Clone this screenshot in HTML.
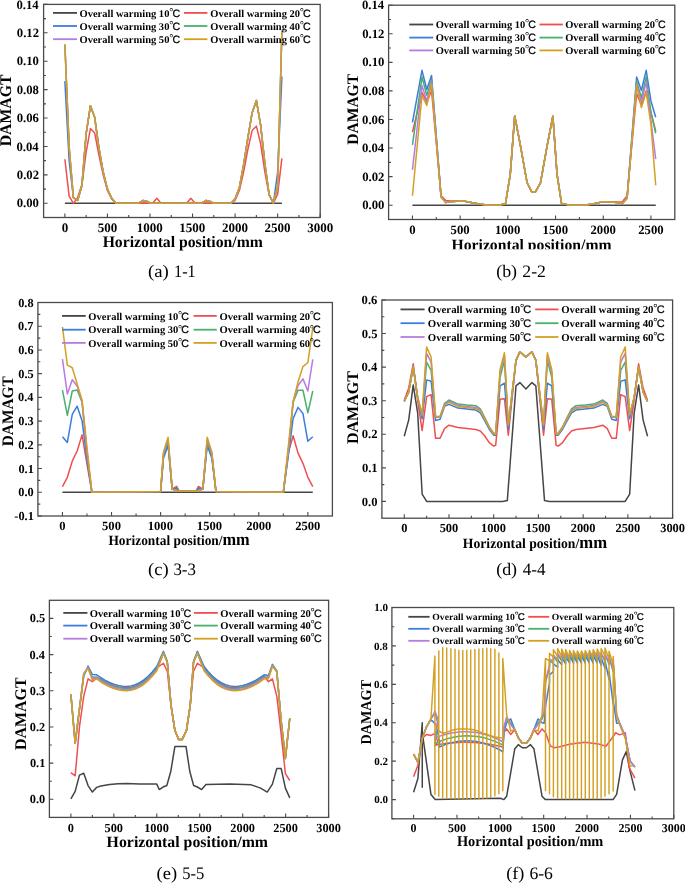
<!DOCTYPE html>
<html><head><meta charset="utf-8"><style>
html,body{margin:0;padding:0;background:#fff;}
svg{display:block;will-change:transform;}
text{fill:#000;text-rendering:geometricPrecision;}
</style></head><body>
<svg width="685" height="883" viewBox="0 0 685 883">
<rect width="685" height="883" fill="#fff"/>
<path d="M64.88,217.50V213.50 M107.43,217.50V213.50 M149.98,217.50V213.50 M192.54,217.50V213.50 M235.09,217.50V213.50 M277.65,217.50V213.50 M320.20,217.50V213.50 M86.15,217.50V215.10 M128.71,217.50V215.10 M171.26,217.50V215.10 M213.82,217.50V215.10 M256.37,217.50V215.10 M298.92,217.50V215.10 M43.60,203.29H47.60 M43.60,174.88H47.60 M43.60,146.47H47.60 M43.60,118.05H47.60 M43.60,89.64H47.60 M43.60,61.23H47.60 M43.60,32.81H47.60 M43.60,4.40H47.60 M43.60,189.09H46.00 M43.60,160.67H46.00 M43.60,132.26H46.00 M43.60,103.85H46.00 M43.60,75.43H46.00 M43.60,47.02H46.00 M43.60,18.61H46.00" stroke="#4a4a4a" stroke-width="1.1" fill="none"/>
<rect x="43.60" y="4.40" width="276.60" height="213.10" fill="none" stroke="#4a4a4a" stroke-width="1.3"/>
<polyline points="64.88,203.29 281.90,203.29" fill="none" stroke="#454545" stroke-width="1.5" stroke-linejoin="round"/>
<polyline points="64.88,159.25 69.13,196.19 73.39,203.29 77.64,197.61 81.90,184.82 86.15,152.15 90.41,128.57 94.66,132.97 98.92,154.99 103.18,174.88 107.43,190.51 111.69,199.03 115.94,203.29 152.54,203.29 156.79,198.32 161.05,203.29 186.58,203.29 190.84,198.32 195.09,203.29 230.84,203.29 235.09,200.45 239.35,190.51 243.60,172.04 247.86,149.31 252.11,130.56 256.37,126.15 260.62,143.63 264.88,172.04 269.14,194.77 273.39,203.29 277.65,194.20 281.90,158.40" fill="none" stroke="#F04E50" stroke-width="1.5" stroke-linejoin="round"/>
<polyline points="64.88,81.12 69.13,160.67 73.39,197.61 77.64,200.45 81.90,185.53 86.15,133.68 90.41,105.84 94.66,117.34 98.92,147.89 103.18,172.04 107.43,189.09 111.69,198.32 115.94,203.29 138.07,203.29 143.18,200.45 147.43,201.59 150.84,203.29 201.05,203.29 206.16,200.45 210.41,201.59 213.82,203.29 230.84,203.29 235.09,199.03 239.35,187.67 243.60,164.94 247.86,137.94 252.11,112.94 256.37,100.44 260.62,125.16 264.88,163.51 269.14,194.77 273.39,203.29 277.65,172.04 281.90,76.43" fill="none" stroke="#3A7DDE" stroke-width="1.5" stroke-linejoin="round"/>
<polyline points="64.88,44.46 69.13,146.47 73.39,197.61 77.64,200.45 81.90,185.53 86.15,133.68 90.41,105.84 94.66,117.34 98.92,147.89 103.18,172.04 107.43,189.09 111.69,198.32 115.94,203.29 138.07,203.29 143.18,200.45 147.43,201.59 150.84,203.29 201.05,203.29 206.16,200.45 210.41,201.59 213.82,203.29 230.84,203.29 235.09,199.03 239.35,187.67 243.60,164.94 247.86,137.94 252.11,112.94 256.37,100.44 260.62,125.16 264.88,163.51 269.14,194.77 273.39,203.29 277.65,186.25 281.90,30.54" fill="none" stroke="#48B06C" stroke-width="1.5" stroke-linejoin="round"/>
<polyline points="64.88,44.46 69.13,146.47 73.39,197.61 77.64,200.45 81.90,185.53 86.15,133.68 90.41,105.84 94.66,117.34 98.92,147.89 103.18,172.04 107.43,189.09 111.69,198.32 115.94,203.29 138.07,203.29 143.18,200.45 147.43,201.59 150.84,203.29 201.05,203.29 206.16,200.45 210.41,201.59 213.82,203.29 230.84,203.29 235.09,199.03 239.35,187.67 243.60,164.94 247.86,137.94 252.11,112.94 256.37,100.44 260.62,125.16 264.88,163.51 269.14,194.77 273.39,203.29 277.65,186.25 281.90,30.54" fill="none" stroke="#B77BE0" stroke-width="1.5" stroke-linejoin="round"/>
<polyline points="64.88,44.46 69.13,146.47 73.39,197.61 77.64,200.45 81.90,185.53 86.15,133.68 90.41,105.84 94.66,117.34 98.92,147.89 103.18,172.04 107.43,189.09 111.69,198.32 115.94,203.29 138.07,203.29 143.18,200.45 147.43,201.59 150.84,203.29 201.05,203.29 206.16,200.45 210.41,201.59 213.82,203.29 230.84,203.29 235.09,199.03 239.35,187.67 243.60,164.94 247.86,137.94 252.11,112.94 256.37,100.44 260.62,125.16 264.88,163.51 269.14,194.77 273.39,203.29 277.65,186.25 281.90,30.54" fill="none" stroke="#D4A021" stroke-width="1.5" stroke-linejoin="round"/>
<line x1="53.00" y1="12.90" x2="77.00" y2="12.90" stroke="#454545" stroke-width="1.8"/>
<text x="79.49" y="16.50" style="font-family:'Liberation Serif',serif;font-weight:bold;font-size:10.30px" textLength="89.91" lengthAdjust="spacingAndGlyphs">Overall warming 10</text>
<text x="169.20" y="14.70" style="font-family:'Liberation Serif',serif;font-weight:bold;font-size:10.40px">°</text>
<text x="172.45" y="16.50" style="font-family:'Liberation Sans',sans-serif;font-size:10.60px" stroke="#000" stroke-width="0.25">C</text>
<line x1="184.00" y1="12.90" x2="207.40" y2="12.90" stroke="#F04E50" stroke-width="1.8"/>
<text x="210.39" y="16.50" style="font-family:'Liberation Serif',serif;font-weight:bold;font-size:10.30px" textLength="89.61" lengthAdjust="spacingAndGlyphs">Overall warming 20</text>
<text x="299.80" y="14.70" style="font-family:'Liberation Serif',serif;font-weight:bold;font-size:10.40px">°</text>
<text x="303.05" y="16.50" style="font-family:'Liberation Sans',sans-serif;font-size:10.60px" stroke="#000" stroke-width="0.25">C</text>
<line x1="53.00" y1="26.00" x2="77.00" y2="26.00" stroke="#3A7DDE" stroke-width="1.8"/>
<text x="79.49" y="29.60" style="font-family:'Liberation Serif',serif;font-weight:bold;font-size:10.30px" textLength="89.91" lengthAdjust="spacingAndGlyphs">Overall warming 30</text>
<text x="169.20" y="27.80" style="font-family:'Liberation Serif',serif;font-weight:bold;font-size:10.40px">°</text>
<text x="172.45" y="29.60" style="font-family:'Liberation Sans',sans-serif;font-size:10.60px" stroke="#000" stroke-width="0.25">C</text>
<line x1="184.00" y1="26.00" x2="207.40" y2="26.00" stroke="#48B06C" stroke-width="1.8"/>
<text x="210.39" y="29.60" style="font-family:'Liberation Serif',serif;font-weight:bold;font-size:10.30px" textLength="89.61" lengthAdjust="spacingAndGlyphs">Overall warming 40</text>
<text x="299.80" y="27.80" style="font-family:'Liberation Serif',serif;font-weight:bold;font-size:10.40px">°</text>
<text x="303.05" y="29.60" style="font-family:'Liberation Sans',sans-serif;font-size:10.60px" stroke="#000" stroke-width="0.25">C</text>
<line x1="53.00" y1="39.20" x2="77.00" y2="39.20" stroke="#B77BE0" stroke-width="1.8"/>
<text x="79.49" y="42.80" style="font-family:'Liberation Serif',serif;font-weight:bold;font-size:10.30px" textLength="89.91" lengthAdjust="spacingAndGlyphs">Overall warming 50</text>
<text x="169.20" y="41.00" style="font-family:'Liberation Serif',serif;font-weight:bold;font-size:10.40px">°</text>
<text x="172.45" y="42.80" style="font-family:'Liberation Sans',sans-serif;font-size:10.60px" stroke="#000" stroke-width="0.25">C</text>
<line x1="184.00" y1="39.20" x2="207.40" y2="39.20" stroke="#D4A021" stroke-width="1.8"/>
<text x="210.39" y="42.80" style="font-family:'Liberation Serif',serif;font-weight:bold;font-size:10.30px" textLength="89.61" lengthAdjust="spacingAndGlyphs">Overall warming 60</text>
<text x="299.80" y="41.00" style="font-family:'Liberation Serif',serif;font-weight:bold;font-size:10.40px">°</text>
<text x="303.05" y="42.80" style="font-family:'Liberation Sans',sans-serif;font-size:10.60px" stroke="#000" stroke-width="0.25">C</text>
<text x="16.76" y="207.43" style="font-family:'Liberation Serif',serif;font-weight:bold;font-size:12.70px" textLength="22.22" lengthAdjust="spacingAndGlyphs">0.00</text>
<text x="16.82" y="179.02" style="font-family:'Liberation Serif',serif;font-weight:bold;font-size:12.70px" textLength="22.22" lengthAdjust="spacingAndGlyphs">0.02</text>
<text x="16.51" y="150.60" style="font-family:'Liberation Serif',serif;font-weight:bold;font-size:12.70px" textLength="22.22" lengthAdjust="spacingAndGlyphs">0.04</text>
<text x="16.65" y="122.19" style="font-family:'Liberation Serif',serif;font-weight:bold;font-size:12.70px" textLength="22.22" lengthAdjust="spacingAndGlyphs">0.06</text>
<text x="16.70" y="93.78" style="font-family:'Liberation Serif',serif;font-weight:bold;font-size:12.70px" textLength="22.22" lengthAdjust="spacingAndGlyphs">0.08</text>
<text x="16.76" y="65.36" style="font-family:'Liberation Serif',serif;font-weight:bold;font-size:12.70px" textLength="22.22" lengthAdjust="spacingAndGlyphs">0.10</text>
<text x="16.82" y="36.95" style="font-family:'Liberation Serif',serif;font-weight:bold;font-size:12.70px" textLength="22.22" lengthAdjust="spacingAndGlyphs">0.12</text>
<text x="16.51" y="8.54" style="font-family:'Liberation Serif',serif;font-weight:bold;font-size:12.70px" textLength="22.22" lengthAdjust="spacingAndGlyphs">0.14</text>
<text x="61.63" y="231.80" style="font-family:'Liberation Serif',serif;font-weight:bold;font-size:13.00px" textLength="6.50" lengthAdjust="spacingAndGlyphs">0</text>
<text x="97.67" y="231.80" style="font-family:'Liberation Serif',serif;font-weight:bold;font-size:13.00px" textLength="19.50" lengthAdjust="spacingAndGlyphs">500</text>
<text x="136.71" y="231.80" style="font-family:'Liberation Serif',serif;font-weight:bold;font-size:13.00px" textLength="26.00" lengthAdjust="spacingAndGlyphs">1000</text>
<text x="179.27" y="231.80" style="font-family:'Liberation Serif',serif;font-weight:bold;font-size:13.00px" textLength="26.00" lengthAdjust="spacingAndGlyphs">1500</text>
<text x="222.07" y="231.80" style="font-family:'Liberation Serif',serif;font-weight:bold;font-size:13.00px" textLength="26.00" lengthAdjust="spacingAndGlyphs">2000</text>
<text x="264.62" y="231.80" style="font-family:'Liberation Serif',serif;font-weight:bold;font-size:13.00px" textLength="26.00" lengthAdjust="spacingAndGlyphs">2500</text>
<text x="307.20" y="231.80" style="font-family:'Liberation Serif',serif;font-weight:bold;font-size:13.00px" textLength="26.00" lengthAdjust="spacingAndGlyphs">3000</text>
<text transform="translate(11.28,146.28) rotate(-90)" x="0" y="0" style="font-family:'Liberation Serif',serif;font-weight:bold;font-size:16.30px" textLength="71.82" lengthAdjust="spacingAndGlyphs">DAMAGT</text>
<text x="102.63" y="247.30" style="font-family:'Liberation Serif',serif;font-weight:bold;font-size:16.00px" textLength="160.24" lengthAdjust="spacingAndGlyphs">Horizontal position/mm</text>
<text x="147.97" y="277.30" style="font-family:'Liberation Serif',serif;font-size:17.50px" textLength="20.85" lengthAdjust="spacingAndGlyphs">(a)</text>
<text x="174.08" y="277.30" style="font-family:'Liberation Serif',serif;font-size:17.50px" textLength="21.60" lengthAdjust="spacingAndGlyphs">1-1</text>
<path d="M412.45,219.50V215.50 M460.15,219.50V215.50 M507.85,219.50V215.50 M555.55,219.50V215.50 M603.25,219.50V215.50 M650.95,219.50V215.50 M436.30,219.50V217.10 M484.00,219.50V217.10 M531.70,219.50V217.10 M579.40,219.50V217.10 M627.10,219.50V217.10 M388.60,205.21H392.60 M388.60,176.64H392.60 M388.60,148.07H392.60 M388.60,119.49H392.60 M388.60,90.92H392.60 M388.60,62.35H392.60 M388.60,33.77H392.60 M388.60,5.20H392.60 M388.60,190.93H391.00 M388.60,162.35H391.00 M388.60,133.78H391.00 M388.60,105.21H391.00 M388.60,76.63H391.00 M388.60,48.06H391.00 M388.60,19.49H391.00" stroke="#4a4a4a" stroke-width="1.1" fill="none"/>
<rect x="388.60" y="5.20" width="286.20" height="214.30" fill="none" stroke="#4a4a4a" stroke-width="1.3"/>
<polyline points="412.45,205.21 655.72,205.21" fill="none" stroke="#454545" stroke-width="1.5" stroke-linejoin="round"/>
<polyline points="412.45,132.07 421.99,92.21 426.76,102.35 431.53,90.49 441.07,195.78 445.84,200.50 450.61,200.93 460.15,200.93 464.92,201.21 469.69,202.36 479.23,204.07 488.77,205.21 498.31,205.21 505.46,203.78 510.24,174.64 514.72,115.78 520.16,144.21 527.12,182.78 531.89,192.07 535.33,192.07 540.48,182.78 547.44,144.21 552.88,116.21 557.08,174.64 561.56,203.36 569.86,205.21 584.17,205.21 593.71,203.78 603.25,201.64 612.79,202.07 622.33,201.64 627.10,195.78 636.64,93.78 641.41,105.21 646.18,90.92 650.95,112.35 655.72,131.21" fill="none" stroke="#F04E50" stroke-width="1.5" stroke-linejoin="round"/>
<polyline points="412.45,122.35 421.99,70.35 426.76,89.49 431.53,75.49 441.07,196.64 445.84,202.64 450.61,201.64 460.15,200.93 464.92,201.21 469.69,202.36 479.23,204.07 488.77,205.21 498.31,205.21 505.46,203.78 510.24,174.64 514.72,115.78 520.16,144.21 527.12,182.78 531.89,192.07 535.33,192.07 540.48,182.78 547.44,144.21 552.88,116.21 557.08,174.64 561.56,203.36 569.86,205.21 584.17,205.21 593.71,203.78 603.25,201.64 612.79,202.07 622.33,203.50 627.10,198.07 636.64,76.92 641.41,90.49 646.18,70.35 650.95,100.92 655.72,117.21" fill="none" stroke="#3A7DDE" stroke-width="1.5" stroke-linejoin="round"/>
<polyline points="412.45,144.78 421.99,76.78 426.76,95.21 431.53,79.49 441.07,196.64 445.84,202.64 450.61,201.64 460.15,200.93 464.92,201.21 469.69,202.36 479.23,204.07 488.77,205.21 498.31,205.21 505.46,203.78 510.24,174.64 514.72,115.78 520.16,144.21 527.12,182.78 531.89,192.07 535.33,192.07 540.48,182.78 547.44,144.21 552.88,116.21 557.08,174.64 561.56,203.36 569.86,205.21 584.17,205.21 593.71,203.78 603.25,201.64 612.79,202.07 622.33,203.50 627.10,198.07 636.64,80.92 641.41,98.06 646.18,76.63 650.95,112.35 655.72,133.21" fill="none" stroke="#48B06C" stroke-width="1.5" stroke-linejoin="round"/>
<polyline points="412.45,169.93 421.99,85.35 426.76,100.92 431.53,81.63 441.07,196.64 445.84,202.64 450.61,201.64 460.15,200.93 464.92,201.21 469.69,202.36 479.23,204.07 488.77,205.21 498.31,205.21 505.46,203.78 510.24,174.64 514.72,115.78 520.16,144.21 527.12,182.78 531.89,192.07 535.33,192.07 540.48,182.78 547.44,144.21 552.88,116.21 557.08,174.64 561.56,203.36 569.86,205.21 584.17,205.21 593.71,203.78 603.25,201.64 612.79,202.07 622.33,203.50 627.10,198.07 636.64,83.78 641.41,102.35 646.18,81.92 650.95,120.92 655.72,159.21" fill="none" stroke="#B77BE0" stroke-width="1.5" stroke-linejoin="round"/>
<polyline points="412.45,195.78 421.99,95.49 426.76,105.49 431.53,84.49 441.07,197.50 445.84,202.64 450.61,201.64 460.15,200.93 464.92,201.21 469.69,202.36 479.23,204.07 488.77,205.21 498.31,205.21 505.46,203.78 510.24,174.64 514.72,115.78 520.16,144.21 527.12,182.78 531.89,192.07 535.33,192.07 540.48,182.78 547.44,144.21 552.88,116.21 557.08,174.64 561.56,203.36 569.86,205.21 584.17,205.21 593.71,203.78 603.25,201.64 612.79,202.07 622.33,203.50 627.10,198.78 636.64,85.35 641.41,107.49 646.18,92.21 650.95,124.49 655.72,185.21" fill="none" stroke="#D4A021" stroke-width="1.5" stroke-linejoin="round"/>
<line x1="409.30" y1="24.50" x2="433.20" y2="24.50" stroke="#454545" stroke-width="1.8"/>
<text x="435.69" y="28.10" style="font-family:'Liberation Serif',serif;font-weight:bold;font-size:10.30px" textLength="89.51" lengthAdjust="spacingAndGlyphs">Overall warming 10</text>
<text x="525.00" y="26.30" style="font-family:'Liberation Serif',serif;font-weight:bold;font-size:10.40px">°</text>
<text x="528.25" y="28.10" style="font-family:'Liberation Sans',sans-serif;font-size:10.60px" stroke="#000" stroke-width="0.25">C</text>
<line x1="539.50" y1="24.50" x2="562.80" y2="24.50" stroke="#F04E50" stroke-width="1.8"/>
<text x="565.19" y="28.10" style="font-family:'Liberation Serif',serif;font-weight:bold;font-size:10.30px" textLength="89.81" lengthAdjust="spacingAndGlyphs">Overall warming 20</text>
<text x="654.80" y="26.30" style="font-family:'Liberation Serif',serif;font-weight:bold;font-size:10.40px">°</text>
<text x="658.05" y="28.10" style="font-family:'Liberation Sans',sans-serif;font-size:10.60px" stroke="#000" stroke-width="0.25">C</text>
<line x1="409.30" y1="37.60" x2="433.20" y2="37.60" stroke="#3A7DDE" stroke-width="1.8"/>
<text x="435.69" y="41.20" style="font-family:'Liberation Serif',serif;font-weight:bold;font-size:10.30px" textLength="89.51" lengthAdjust="spacingAndGlyphs">Overall warming 30</text>
<text x="525.00" y="39.40" style="font-family:'Liberation Serif',serif;font-weight:bold;font-size:10.40px">°</text>
<text x="528.25" y="41.20" style="font-family:'Liberation Sans',sans-serif;font-size:10.60px" stroke="#000" stroke-width="0.25">C</text>
<line x1="539.50" y1="37.60" x2="562.80" y2="37.60" stroke="#48B06C" stroke-width="1.8"/>
<text x="565.19" y="41.20" style="font-family:'Liberation Serif',serif;font-weight:bold;font-size:10.30px" textLength="89.81" lengthAdjust="spacingAndGlyphs">Overall warming 40</text>
<text x="654.80" y="39.40" style="font-family:'Liberation Serif',serif;font-weight:bold;font-size:10.40px">°</text>
<text x="658.05" y="41.20" style="font-family:'Liberation Sans',sans-serif;font-size:10.60px" stroke="#000" stroke-width="0.25">C</text>
<line x1="409.30" y1="50.40" x2="433.20" y2="50.40" stroke="#B77BE0" stroke-width="1.8"/>
<text x="435.69" y="54.00" style="font-family:'Liberation Serif',serif;font-weight:bold;font-size:10.30px" textLength="89.51" lengthAdjust="spacingAndGlyphs">Overall warming 50</text>
<text x="525.00" y="52.20" style="font-family:'Liberation Serif',serif;font-weight:bold;font-size:10.40px">°</text>
<text x="528.25" y="54.00" style="font-family:'Liberation Sans',sans-serif;font-size:10.60px" stroke="#000" stroke-width="0.25">C</text>
<line x1="539.50" y1="50.40" x2="562.80" y2="50.40" stroke="#D4A021" stroke-width="1.8"/>
<text x="565.19" y="54.00" style="font-family:'Liberation Serif',serif;font-weight:bold;font-size:10.30px" textLength="89.81" lengthAdjust="spacingAndGlyphs">Overall warming 60</text>
<text x="654.80" y="52.20" style="font-family:'Liberation Serif',serif;font-weight:bold;font-size:10.40px">°</text>
<text x="658.05" y="54.00" style="font-family:'Liberation Sans',sans-serif;font-size:10.60px" stroke="#000" stroke-width="0.25">C</text>
<text x="362.16" y="209.35" style="font-family:'Liberation Serif',serif;font-weight:bold;font-size:12.70px" textLength="22.22" lengthAdjust="spacingAndGlyphs">0.00</text>
<text x="362.22" y="180.78" style="font-family:'Liberation Serif',serif;font-weight:bold;font-size:12.70px" textLength="22.22" lengthAdjust="spacingAndGlyphs">0.02</text>
<text x="361.91" y="152.20" style="font-family:'Liberation Serif',serif;font-weight:bold;font-size:12.70px" textLength="22.22" lengthAdjust="spacingAndGlyphs">0.04</text>
<text x="362.05" y="123.63" style="font-family:'Liberation Serif',serif;font-weight:bold;font-size:12.70px" textLength="22.22" lengthAdjust="spacingAndGlyphs">0.06</text>
<text x="362.10" y="95.06" style="font-family:'Liberation Serif',serif;font-weight:bold;font-size:12.70px" textLength="22.22" lengthAdjust="spacingAndGlyphs">0.08</text>
<text x="362.16" y="66.48" style="font-family:'Liberation Serif',serif;font-weight:bold;font-size:12.70px" textLength="22.22" lengthAdjust="spacingAndGlyphs">0.10</text>
<text x="362.22" y="37.91" style="font-family:'Liberation Serif',serif;font-weight:bold;font-size:12.70px" textLength="22.22" lengthAdjust="spacingAndGlyphs">0.12</text>
<text x="361.91" y="9.34" style="font-family:'Liberation Serif',serif;font-weight:bold;font-size:12.70px" textLength="22.22" lengthAdjust="spacingAndGlyphs">0.14</text>
<text x="409.28" y="233.60" style="font-family:'Liberation Serif',serif;font-weight:bold;font-size:12.70px" textLength="6.35" lengthAdjust="spacingAndGlyphs">0</text>
<text x="450.61" y="233.60" style="font-family:'Liberation Serif',serif;font-weight:bold;font-size:12.70px" textLength="19.05" lengthAdjust="spacingAndGlyphs">500</text>
<text x="494.88" y="233.60" style="font-family:'Liberation Serif',serif;font-weight:bold;font-size:12.70px" textLength="25.40" lengthAdjust="spacingAndGlyphs">1000</text>
<text x="542.58" y="233.60" style="font-family:'Liberation Serif',serif;font-weight:bold;font-size:12.70px" textLength="25.40" lengthAdjust="spacingAndGlyphs">1500</text>
<text x="590.53" y="233.60" style="font-family:'Liberation Serif',serif;font-weight:bold;font-size:12.70px" textLength="25.40" lengthAdjust="spacingAndGlyphs">2000</text>
<text x="638.23" y="233.60" style="font-family:'Liberation Serif',serif;font-weight:bold;font-size:12.70px" textLength="25.40" lengthAdjust="spacingAndGlyphs">2500</text>
<text transform="translate(358.18,144.67) rotate(-90)" x="0" y="0" style="font-family:'Liberation Serif',serif;font-weight:bold;font-size:16.00px" textLength="70.71" lengthAdjust="spacingAndGlyphs">DAMAGT</text>
<clipPath id="clipb"><rect x="380" y="230" width="300" height="19.3"/></clipPath>
<g clip-path="url(#clipb)">
<text x="451.53" y="249.60" style="font-family:'Liberation Serif',serif;font-weight:bold;font-size:15.80px" textLength="160.04" lengthAdjust="spacingAndGlyphs">Horizontal position/mm</text>
</g>
<text x="496.21" y="277.30" style="font-family:'Liberation Serif',serif;font-size:17.50px" textLength="20.87" lengthAdjust="spacingAndGlyphs">(b)</text>
<text x="522.32" y="277.30" style="font-family:'Liberation Serif',serif;font-size:17.50px" textLength="23.66" lengthAdjust="spacingAndGlyphs">2-2</text>
<path d="M62.44,516.00V512.00 M111.53,516.00V512.00 M160.61,516.00V512.00 M209.69,516.00V512.00 M258.77,516.00V512.00 M307.86,516.00V512.00 M86.98,516.00V513.60 M136.07,516.00V513.60 M185.15,516.00V513.60 M234.23,516.00V513.60 M283.32,516.00V513.60 M37.90,516.00H41.90 M37.90,492.28H41.90 M37.90,468.56H41.90 M37.90,444.83H41.90 M37.90,421.11H41.90 M37.90,397.39H41.90 M37.90,373.67H41.90 M37.90,349.94H41.90 M37.90,326.22H41.90 M37.90,302.50H41.90 M37.90,504.14H40.30 M37.90,480.42H40.30 M37.90,456.69H40.30 M37.90,432.97H40.30 M37.90,409.25H40.30 M37.90,385.53H40.30 M37.90,361.81H40.30 M37.90,338.08H40.30 M37.90,314.36H40.30" stroke="#4a4a4a" stroke-width="1.1" fill="none"/>
<rect x="37.90" y="302.50" width="294.50" height="213.50" fill="none" stroke="#4a4a4a" stroke-width="1.3"/>
<polyline points="62.44,492.28 312.77,492.28" fill="none" stroke="#454545" stroke-width="1.5" stroke-linejoin="round"/>
<polyline points="62.44,486.58 67.35,477.33 72.26,461.20 77.17,451.00 82.07,434.87 86.98,463.81 91.89,492.28 160.61,491.57 163.46,455.91 168.07,442.46 172.19,489.19 176.61,486.35 179.26,491.33 195.95,491.33 198.50,486.35 202.82,489.19 207.24,442.46 211.85,455.91 215.97,491.57 283.32,492.28 288.22,453.14 293.13,435.82 298.04,453.14 302.95,463.34 307.86,477.33 312.77,486.58" fill="none" stroke="#F04E50" stroke-width="1.5" stroke-linejoin="round"/>
<polyline points="62.44,436.77 67.35,442.46 72.26,414.47 77.17,406.17 82.07,420.64 86.98,459.07 91.89,492.28 160.61,491.57 163.46,458.16 168.07,445.55 172.19,489.19 176.61,488.01 179.26,491.33 195.95,491.33 198.50,488.01 202.82,489.19 207.24,445.55 211.85,458.16 215.97,491.57 283.32,492.28 288.22,456.69 293.13,418.50 298.04,407.35 302.95,413.52 307.86,441.27 312.77,436.77" fill="none" stroke="#3A7DDE" stroke-width="1.5" stroke-linejoin="round"/>
<polyline points="62.44,390.04 67.35,415.42 72.26,390.98 77.17,390.04 82.07,402.13 86.98,453.14 91.89,492.28 160.61,491.57 163.46,455.05 168.07,441.27 172.19,489.19 176.61,489.43 179.26,491.33 195.95,491.33 198.50,489.43 202.82,489.19 207.24,441.27 211.85,455.05 215.97,491.57 283.32,492.28 288.22,453.14 293.13,402.13 298.04,390.27 302.95,390.27 307.86,412.81 312.77,390.98" fill="none" stroke="#48B06C" stroke-width="1.5" stroke-linejoin="round"/>
<polyline points="62.44,359.20 67.35,394.07 72.26,379.83 77.17,386.00 82.07,402.13 86.98,451.95 91.89,492.28 160.61,491.57 163.46,453.31 168.07,438.90 172.19,489.19 176.61,490.38 179.26,491.33 195.95,491.33 198.50,490.38 202.82,489.19 207.24,438.90 211.85,453.31 215.97,491.57 283.32,492.28 288.22,451.95 293.13,402.13 298.04,385.53 302.95,378.89 307.86,390.98 312.77,359.43" fill="none" stroke="#B77BE0" stroke-width="1.5" stroke-linejoin="round"/>
<polyline points="62.44,326.93 67.35,365.13 72.26,367.74 77.17,383.87 82.07,400.24 86.98,447.21 91.89,492.28 160.61,491.57 163.46,452.10 168.07,437.24 172.19,489.19 176.61,491.33 179.26,491.33 195.95,491.33 198.50,491.33 202.82,489.19 207.24,437.24 211.85,452.10 215.97,491.57 283.32,492.28 288.22,447.21 293.13,401.18 298.04,381.97 302.95,366.55 307.86,362.52 312.77,327.88" fill="none" stroke="#D4A021" stroke-width="1.5" stroke-linejoin="round"/>
<line x1="62.00" y1="315.90" x2="85.70" y2="315.90" stroke="#454545" stroke-width="1.8"/>
<text x="88.39" y="319.50" style="font-family:'Liberation Serif',serif;font-weight:bold;font-size:10.30px" textLength="89.91" lengthAdjust="spacingAndGlyphs">Overall warming 10</text>
<text x="178.10" y="317.70" style="font-family:'Liberation Serif',serif;font-weight:bold;font-size:10.40px">°</text>
<text x="181.35" y="319.50" style="font-family:'Liberation Sans',sans-serif;font-size:10.60px" stroke="#000" stroke-width="0.25">C</text>
<line x1="193.60" y1="315.90" x2="216.70" y2="315.90" stroke="#F04E50" stroke-width="1.8"/>
<text x="219.48" y="319.50" style="font-family:'Liberation Serif',serif;font-weight:bold;font-size:10.30px" textLength="90.52" lengthAdjust="spacingAndGlyphs">Overall warming 20</text>
<text x="309.80" y="317.70" style="font-family:'Liberation Serif',serif;font-weight:bold;font-size:10.40px">°</text>
<text x="313.05" y="319.50" style="font-family:'Liberation Sans',sans-serif;font-size:10.60px" stroke="#000" stroke-width="0.25">C</text>
<line x1="62.00" y1="329.70" x2="85.70" y2="329.70" stroke="#3A7DDE" stroke-width="1.8"/>
<text x="88.39" y="333.30" style="font-family:'Liberation Serif',serif;font-weight:bold;font-size:10.30px" textLength="89.91" lengthAdjust="spacingAndGlyphs">Overall warming 30</text>
<text x="178.10" y="331.50" style="font-family:'Liberation Serif',serif;font-weight:bold;font-size:10.40px">°</text>
<text x="181.35" y="333.30" style="font-family:'Liberation Sans',sans-serif;font-size:10.60px" stroke="#000" stroke-width="0.25">C</text>
<line x1="193.60" y1="329.70" x2="216.70" y2="329.70" stroke="#48B06C" stroke-width="1.8"/>
<text x="219.48" y="333.30" style="font-family:'Liberation Serif',serif;font-weight:bold;font-size:10.30px" textLength="90.52" lengthAdjust="spacingAndGlyphs">Overall warming 40</text>
<text x="309.80" y="331.50" style="font-family:'Liberation Serif',serif;font-weight:bold;font-size:10.40px">°</text>
<text x="313.05" y="333.30" style="font-family:'Liberation Sans',sans-serif;font-size:10.60px" stroke="#000" stroke-width="0.25">C</text>
<line x1="62.00" y1="342.90" x2="85.70" y2="342.90" stroke="#B77BE0" stroke-width="1.8"/>
<text x="88.39" y="346.50" style="font-family:'Liberation Serif',serif;font-weight:bold;font-size:10.30px" textLength="89.91" lengthAdjust="spacingAndGlyphs">Overall warming 50</text>
<text x="178.10" y="344.70" style="font-family:'Liberation Serif',serif;font-weight:bold;font-size:10.40px">°</text>
<text x="181.35" y="346.50" style="font-family:'Liberation Sans',sans-serif;font-size:10.60px" stroke="#000" stroke-width="0.25">C</text>
<line x1="193.60" y1="342.90" x2="216.70" y2="342.90" stroke="#D4A021" stroke-width="1.8"/>
<text x="219.48" y="346.50" style="font-family:'Liberation Serif',serif;font-weight:bold;font-size:10.30px" textLength="90.52" lengthAdjust="spacingAndGlyphs">Overall warming 60</text>
<text x="309.80" y="344.70" style="font-family:'Liberation Serif',serif;font-weight:bold;font-size:10.40px">°</text>
<text x="313.05" y="346.50" style="font-family:'Liberation Sans',sans-serif;font-size:10.60px" stroke="#000" stroke-width="0.25">C</text>
<text x="14.37" y="520.01" style="font-family:'Liberation Serif',serif;font-weight:bold;font-size:12.30px" textLength="19.47" lengthAdjust="spacingAndGlyphs">-0.1</text>
<text x="18.29" y="496.28" style="font-family:'Liberation Serif',serif;font-weight:bold;font-size:12.30px" textLength="15.38" lengthAdjust="spacingAndGlyphs">0.0</text>
<text x="18.46" y="472.56" style="font-family:'Liberation Serif',serif;font-weight:bold;font-size:12.30px" textLength="15.38" lengthAdjust="spacingAndGlyphs">0.1</text>
<text x="18.35" y="448.84" style="font-family:'Liberation Serif',serif;font-weight:bold;font-size:12.30px" textLength="15.38" lengthAdjust="spacingAndGlyphs">0.2</text>
<text x="18.25" y="425.12" style="font-family:'Liberation Serif',serif;font-weight:bold;font-size:12.30px" textLength="15.38" lengthAdjust="spacingAndGlyphs">0.3</text>
<text x="18.05" y="401.39" style="font-family:'Liberation Serif',serif;font-weight:bold;font-size:12.30px" textLength="15.38" lengthAdjust="spacingAndGlyphs">0.4</text>
<text x="18.28" y="377.67" style="font-family:'Liberation Serif',serif;font-weight:bold;font-size:12.30px" textLength="15.38" lengthAdjust="spacingAndGlyphs">0.5</text>
<text x="18.19" y="353.95" style="font-family:'Liberation Serif',serif;font-weight:bold;font-size:12.30px" textLength="15.38" lengthAdjust="spacingAndGlyphs">0.6</text>
<text x="18.13" y="330.23" style="font-family:'Liberation Serif',serif;font-weight:bold;font-size:12.30px" textLength="15.38" lengthAdjust="spacingAndGlyphs">0.7</text>
<text x="18.23" y="306.51" style="font-family:'Liberation Serif',serif;font-weight:bold;font-size:12.30px" textLength="15.38" lengthAdjust="spacingAndGlyphs">0.8</text>
<text x="59.29" y="530.00" style="font-family:'Liberation Serif',serif;font-weight:bold;font-size:12.60px" textLength="6.30" lengthAdjust="spacingAndGlyphs">0</text>
<text x="102.06" y="530.00" style="font-family:'Liberation Serif',serif;font-weight:bold;font-size:12.60px" textLength="18.90" lengthAdjust="spacingAndGlyphs">500</text>
<text x="147.74" y="530.00" style="font-family:'Liberation Serif',serif;font-weight:bold;font-size:12.60px" textLength="25.20" lengthAdjust="spacingAndGlyphs">1000</text>
<text x="196.83" y="530.00" style="font-family:'Liberation Serif',serif;font-weight:bold;font-size:12.60px" textLength="25.20" lengthAdjust="spacingAndGlyphs">1500</text>
<text x="246.15" y="530.00" style="font-family:'Liberation Serif',serif;font-weight:bold;font-size:12.60px" textLength="25.20" lengthAdjust="spacingAndGlyphs">2000</text>
<text x="295.23" y="530.00" style="font-family:'Liberation Serif',serif;font-weight:bold;font-size:12.60px" textLength="25.20" lengthAdjust="spacingAndGlyphs">2500</text>
<text transform="translate(12.78,446.27) rotate(-90)" x="0" y="0" style="font-family:'Liberation Serif',serif;font-weight:bold;font-size:16.00px" textLength="70.10" lengthAdjust="spacingAndGlyphs">DAMAGT</text>
<text x="108.47" y="545.20" style="font-family:'Liberation Serif',serif;font-weight:bold;font-size:14.20px" textLength="114.02" lengthAdjust="spacingAndGlyphs">Horizontal position/</text>
<text x="222.49" y="545.20" style="font-family:'Liberation Serif',serif;font-weight:bold;font-size:17.40px" textLength="27.29" lengthAdjust="spacingAndGlyphs">mm</text>
<text x="147.98" y="574.80" style="font-family:'Liberation Serif',serif;font-size:17.50px" textLength="20.63" lengthAdjust="spacingAndGlyphs">(c)</text>
<text x="173.39" y="574.80" style="font-family:'Liberation Serif',serif;font-size:17.50px" textLength="22.46" lengthAdjust="spacingAndGlyphs">3-3</text>
<path d="M404.26,518.20V514.20 M448.98,518.20V514.20 M493.71,518.20V514.20 M538.43,518.20V514.20 M583.15,518.20V514.20 M627.88,518.20V514.20 M672.60,518.20V514.20 M426.62,518.20V515.80 M471.35,518.20V515.80 M516.07,518.20V515.80 M560.79,518.20V515.80 M605.52,518.20V515.80 M650.24,518.20V515.80 M381.90,501.42H385.90 M381.90,467.85H385.90 M381.90,434.28H385.90 M381.90,400.71H385.90 M381.90,367.14H385.90 M381.90,333.57H385.90 M381.90,300.00H385.90 M381.90,484.63H384.30 M381.90,451.06H384.30 M381.90,417.49H384.30 M381.90,383.92H384.30 M381.90,350.35H384.30 M381.90,316.78H384.30" stroke="#4a4a4a" stroke-width="1.1" fill="none"/>
<rect x="381.90" y="300.00" width="290.70" height="218.20" fill="none" stroke="#4a4a4a" stroke-width="1.3"/>
<polyline points="404.26,436.29 408.73,419.84 413.21,384.93 417.68,413.13 422.15,494.03 426.62,501.42 502.65,501.42 507.30,500.58 515.98,385.94 519.92,382.58 525.91,388.96 531.90,382.58 535.84,385.94 544.51,500.58 549.16,501.42 625.19,501.42 629.67,494.03 634.14,413.13 638.61,384.93 643.08,419.84 647.56,436.29" fill="none" stroke="#454545" stroke-width="1.5" stroke-linejoin="round"/>
<polyline points="404.26,400.37 408.73,387.95 413.21,363.78 417.68,400.71 422.15,430.58 426.62,396.68 431.10,394.67 435.57,438.31 440.04,438.31 444.51,428.57 448.98,425.21 457.93,427.56 466.87,428.57 475.82,429.58 480.29,430.92 484.76,435.96 489.24,442.67 493.71,446.03 495.68,445.35 500.06,399.36 504.44,398.69 508.29,435.28 515.98,360.42 519.92,351.70 525.91,357.07 531.90,351.70 535.84,360.42 543.53,435.28 547.38,398.69 551.76,399.36 556.14,445.35 558.11,446.03 562.58,442.67 567.05,435.96 571.53,430.92 576.00,429.58 584.94,428.57 593.89,427.56 602.83,425.21 607.30,428.57 611.78,438.31 616.25,438.31 620.72,394.67 625.19,396.68 629.67,430.58 634.14,400.71 638.61,363.78 643.08,387.95 647.56,400.37" fill="none" stroke="#F04E50" stroke-width="1.5" stroke-linejoin="round"/>
<polyline points="404.26,401.38 408.73,391.98 413.21,366.80 417.68,397.69 422.15,418.84 426.62,379.89 431.10,381.24 435.57,420.51 440.04,419.17 444.51,406.41 448.98,404.40 457.93,408.09 466.87,409.10 475.82,410.11 480.29,412.79 484.76,420.85 489.24,429.24 493.71,435.28 495.68,435.28 500.06,385.94 504.44,383.25 508.29,429.24 515.98,360.42 519.92,351.70 525.91,357.07 531.90,351.70 535.84,360.42 543.53,429.24 547.38,383.25 551.76,385.94 556.14,435.28 558.11,435.28 562.58,429.24 567.05,420.85 571.53,412.79 576.00,410.11 584.94,409.10 593.89,408.09 602.83,404.40 607.30,406.41 611.78,419.17 616.25,420.51 620.72,381.24 625.19,379.89 629.67,418.84 634.14,397.69 638.61,366.80 643.08,391.98 647.56,401.38" fill="none" stroke="#3A7DDE" stroke-width="1.5" stroke-linejoin="round"/>
<polyline points="404.26,401.38 408.73,391.98 413.21,366.80 417.68,397.69 422.15,415.81 426.62,362.10 431.10,370.50 435.57,417.49 440.04,416.82 444.51,403.39 448.98,400.04 457.93,404.06 466.87,405.07 475.82,405.74 480.29,408.76 484.76,417.49 489.24,426.89 493.71,433.27 495.68,433.27 500.06,377.21 504.44,360.42 508.29,425.88 515.98,360.42 519.92,351.70 525.91,357.07 531.90,351.70 535.84,360.42 543.53,425.88 547.38,360.42 551.76,377.21 556.14,433.27 558.11,433.27 562.58,426.89 567.05,417.49 571.53,408.76 576.00,405.74 584.94,405.07 593.89,404.06 602.83,400.04 607.30,403.39 611.78,416.82 616.25,417.49 620.72,370.50 625.19,362.10 629.67,415.81 634.14,397.69 638.61,366.80 643.08,391.98 647.56,401.38" fill="none" stroke="#48B06C" stroke-width="1.5" stroke-linejoin="round"/>
<polyline points="404.26,401.38 408.73,391.98 413.21,366.80 417.68,397.69 422.15,414.81 426.62,353.38 431.10,362.10 435.57,416.82 440.04,416.82 444.51,404.40 448.98,401.38 457.93,405.41 466.87,406.41 475.82,407.42 480.29,410.11 484.76,418.50 489.24,427.23 493.71,433.94 495.68,433.94 500.06,372.17 504.44,355.39 508.29,425.21 515.98,360.42 519.92,351.70 525.91,357.07 531.90,351.70 535.84,360.42 543.53,425.21 547.38,355.39 551.76,372.17 556.14,433.94 558.11,433.94 562.58,427.23 567.05,418.50 571.53,410.11 576.00,407.42 584.94,406.41 593.89,405.41 602.83,401.38 607.30,404.40 611.78,416.82 616.25,416.82 620.72,362.10 625.19,353.38 629.67,414.81 634.14,397.69 638.61,366.80 643.08,391.98 647.56,401.38" fill="none" stroke="#B77BE0" stroke-width="1.5" stroke-linejoin="round"/>
<polyline points="404.26,401.38 408.73,391.98 413.21,366.80 417.68,397.69 422.15,414.14 426.62,347.00 431.10,357.07 435.57,416.49 440.04,416.49 444.51,405.41 448.98,402.39 457.93,406.41 466.87,407.42 475.82,408.43 480.29,411.11 484.76,419.17 489.24,427.56 493.71,434.28 495.68,434.28 500.06,369.49 504.44,352.70 508.29,424.54 515.98,360.42 519.92,351.70 525.91,357.07 531.90,351.70 535.84,360.42 543.53,424.54 547.38,352.70 551.76,369.49 556.14,434.28 558.11,434.28 562.58,427.56 567.05,419.17 571.53,411.11 576.00,408.43 584.94,407.42 593.89,406.41 602.83,402.39 607.30,405.41 611.78,416.49 616.25,416.49 620.72,357.07 625.19,347.00 629.67,414.14 634.14,397.69 638.61,366.80 643.08,391.98 647.56,401.38" fill="none" stroke="#D4A021" stroke-width="1.5" stroke-linejoin="round"/>
<line x1="400.50" y1="309.40" x2="424.60" y2="309.40" stroke="#454545" stroke-width="1.8"/>
<text x="427.77" y="313.10" style="font-family:'Liberation Serif',serif;font-weight:bold;font-size:10.60px" textLength="92.43" lengthAdjust="spacingAndGlyphs">Overall warming 10</text>
<text x="519.99" y="311.25" style="font-family:'Liberation Serif',serif;font-weight:bold;font-size:10.70px">°</text>
<text x="523.34" y="313.10" style="font-family:'Liberation Sans',sans-serif;font-size:10.91px" stroke="#000" stroke-width="0.25">C</text>
<line x1="535.20" y1="309.40" x2="558.50" y2="309.40" stroke="#F04E50" stroke-width="1.8"/>
<text x="561.17" y="313.10" style="font-family:'Liberation Serif',serif;font-weight:bold;font-size:10.60px" textLength="92.33" lengthAdjust="spacingAndGlyphs">Overall warming 20</text>
<text x="653.29" y="311.25" style="font-family:'Liberation Serif',serif;font-weight:bold;font-size:10.70px">°</text>
<text x="656.64" y="313.10" style="font-family:'Liberation Sans',sans-serif;font-size:10.91px" stroke="#000" stroke-width="0.25">C</text>
<line x1="400.50" y1="323.20" x2="424.60" y2="323.20" stroke="#3A7DDE" stroke-width="1.8"/>
<text x="427.77" y="326.90" style="font-family:'Liberation Serif',serif;font-weight:bold;font-size:10.60px" textLength="92.43" lengthAdjust="spacingAndGlyphs">Overall warming 30</text>
<text x="519.99" y="325.05" style="font-family:'Liberation Serif',serif;font-weight:bold;font-size:10.70px">°</text>
<text x="523.34" y="326.90" style="font-family:'Liberation Sans',sans-serif;font-size:10.91px" stroke="#000" stroke-width="0.25">C</text>
<line x1="535.20" y1="323.20" x2="558.50" y2="323.20" stroke="#48B06C" stroke-width="1.8"/>
<text x="561.17" y="326.90" style="font-family:'Liberation Serif',serif;font-weight:bold;font-size:10.60px" textLength="92.33" lengthAdjust="spacingAndGlyphs">Overall warming 40</text>
<text x="653.29" y="325.05" style="font-family:'Liberation Serif',serif;font-weight:bold;font-size:10.70px">°</text>
<text x="656.64" y="326.90" style="font-family:'Liberation Sans',sans-serif;font-size:10.91px" stroke="#000" stroke-width="0.25">C</text>
<line x1="400.50" y1="337.00" x2="424.60" y2="337.00" stroke="#B77BE0" stroke-width="1.8"/>
<text x="427.77" y="340.70" style="font-family:'Liberation Serif',serif;font-weight:bold;font-size:10.60px" textLength="92.43" lengthAdjust="spacingAndGlyphs">Overall warming 50</text>
<text x="519.99" y="338.85" style="font-family:'Liberation Serif',serif;font-weight:bold;font-size:10.70px">°</text>
<text x="523.34" y="340.70" style="font-family:'Liberation Sans',sans-serif;font-size:10.91px" stroke="#000" stroke-width="0.25">C</text>
<line x1="535.20" y1="337.00" x2="558.50" y2="337.00" stroke="#D4A021" stroke-width="1.8"/>
<text x="561.17" y="340.70" style="font-family:'Liberation Serif',serif;font-weight:bold;font-size:10.60px" textLength="92.33" lengthAdjust="spacingAndGlyphs">Overall warming 60</text>
<text x="653.29" y="338.85" style="font-family:'Liberation Serif',serif;font-weight:bold;font-size:10.70px">°</text>
<text x="656.64" y="340.70" style="font-family:'Liberation Sans',sans-serif;font-size:10.91px" stroke="#000" stroke-width="0.25">C</text>
<text x="361.73" y="505.52" style="font-family:'Liberation Serif',serif;font-weight:bold;font-size:12.60px" textLength="15.75" lengthAdjust="spacingAndGlyphs">0.0</text>
<text x="361.90" y="471.95" style="font-family:'Liberation Serif',serif;font-weight:bold;font-size:12.60px" textLength="15.75" lengthAdjust="spacingAndGlyphs">0.1</text>
<text x="361.79" y="438.38" style="font-family:'Liberation Serif',serif;font-weight:bold;font-size:12.60px" textLength="15.75" lengthAdjust="spacingAndGlyphs">0.2</text>
<text x="361.68" y="404.81" style="font-family:'Liberation Serif',serif;font-weight:bold;font-size:12.60px" textLength="15.75" lengthAdjust="spacingAndGlyphs">0.3</text>
<text x="361.48" y="371.24" style="font-family:'Liberation Serif',serif;font-weight:bold;font-size:12.60px" textLength="15.75" lengthAdjust="spacingAndGlyphs">0.4</text>
<text x="361.71" y="337.67" style="font-family:'Liberation Serif',serif;font-weight:bold;font-size:12.60px" textLength="15.75" lengthAdjust="spacingAndGlyphs">0.5</text>
<text x="361.62" y="304.10" style="font-family:'Liberation Serif',serif;font-weight:bold;font-size:12.60px" textLength="15.75" lengthAdjust="spacingAndGlyphs">0.6</text>
<text x="401.16" y="532.40" style="font-family:'Liberation Serif',serif;font-weight:bold;font-size:12.40px" textLength="6.20" lengthAdjust="spacingAndGlyphs">0</text>
<text x="439.67" y="532.40" style="font-family:'Liberation Serif',serif;font-weight:bold;font-size:12.40px" textLength="18.60" lengthAdjust="spacingAndGlyphs">500</text>
<text x="481.05" y="532.40" style="font-family:'Liberation Serif',serif;font-weight:bold;font-size:12.40px" textLength="24.80" lengthAdjust="spacingAndGlyphs">1000</text>
<text x="525.77" y="532.40" style="font-family:'Liberation Serif',serif;font-weight:bold;font-size:12.40px" textLength="24.80" lengthAdjust="spacingAndGlyphs">1500</text>
<text x="570.73" y="532.40" style="font-family:'Liberation Serif',serif;font-weight:bold;font-size:12.40px" textLength="24.80" lengthAdjust="spacingAndGlyphs">2000</text>
<text x="615.45" y="532.40" style="font-family:'Liberation Serif',serif;font-weight:bold;font-size:12.40px" textLength="24.80" lengthAdjust="spacingAndGlyphs">2500</text>
<text x="660.20" y="532.40" style="font-family:'Liberation Serif',serif;font-weight:bold;font-size:12.40px" textLength="24.80" lengthAdjust="spacingAndGlyphs">3000</text>
<text transform="translate(358.08,444.08) rotate(-90)" x="0" y="0" style="font-family:'Liberation Serif',serif;font-weight:bold;font-size:16.30px" textLength="73.02" lengthAdjust="spacingAndGlyphs">DAMAGT</text>
<text x="462.87" y="548.20" style="font-family:'Liberation Serif',serif;font-weight:bold;font-size:14.20px" textLength="116.36" lengthAdjust="spacingAndGlyphs">Horizontal position/</text>
<text x="579.23" y="548.20" style="font-family:'Liberation Serif',serif;font-weight:bold;font-size:17.40px" textLength="27.85" lengthAdjust="spacingAndGlyphs">mm</text>
<text x="496.21" y="574.80" style="font-family:'Liberation Serif',serif;font-size:17.50px" textLength="20.87" lengthAdjust="spacingAndGlyphs">(d)</text>
<text x="522.77" y="574.80" style="font-family:'Liberation Serif',serif;font-size:17.50px" textLength="22.80" lengthAdjust="spacingAndGlyphs">4-4</text>
<path d="M70.88,817.40V813.40 M113.83,817.40V813.40 M156.78,817.40V813.40 M199.74,817.40V813.40 M242.69,817.40V813.40 M285.65,817.40V813.40 M328.60,817.40V813.40 M92.35,817.40V815.00 M135.31,817.40V815.00 M178.26,817.40V815.00 M221.22,817.40V815.00 M264.17,817.40V815.00 M307.12,817.40V815.00 M49.40,799.31H53.40 M49.40,763.12H53.40 M49.40,726.94H53.40 M49.40,690.76H53.40 M49.40,654.58H53.40 M49.40,618.39H53.40 M49.40,781.22H51.80 M49.40,745.03H51.80 M49.40,708.85H51.80 M49.40,672.67H51.80 M49.40,636.48H51.80" stroke="#4a4a4a" stroke-width="1.1" fill="none"/>
<rect x="49.40" y="600.30" width="279.20" height="217.10" fill="none" stroke="#4a4a4a" stroke-width="1.3"/>
<polyline points="70.88,798.95 75.17,791.35 79.47,775.07 83.76,773.26 88.06,785.56 92.35,792.07 96.65,787.37 100.94,785.92 109.54,784.47 118.13,783.75 126.72,783.39 139.60,784.11 156.78,784.11 159.19,789.54 163.06,787.01 166.84,785.56 170.70,771.81 174.91,746.48 185.99,746.48 189.86,771.81 193.64,785.56 197.42,787.01 201.63,789.54 205.92,784.47 229.98,784.11 251.28,784.84 260.56,788.09 267.26,792.07 272.42,784.11 276.80,768.55 281.18,768.55 285.39,788.09 289.77,797.86" fill="none" stroke="#454545" stroke-width="1.5" stroke-linejoin="round"/>
<polyline points="70.88,772.53 75.17,775.79 79.47,726.94 83.76,696.19 88.06,678.82 92.35,681.71 96.65,678.09 100.94,679.10 105.24,681.78 109.54,683.97 113.83,685.67 118.13,686.89 122.42,687.62 126.72,687.86 131.01,687.46 135.31,686.24 139.60,684.20 143.90,681.35 148.19,677.69 152.49,673.21 156.78,667.92 163.40,663.26 167.27,671.22 171.05,705.23 174.91,730.56 178.78,739.61 182.13,739.61 186.42,730.56 190.20,705.23 193.55,671.22 197.42,663.26 204.03,667.92 208.33,673.21 212.62,677.69 216.92,681.35 221.22,684.20 225.51,686.24 229.81,687.46 234.10,687.86 238.40,687.62 242.69,686.89 246.99,685.67 251.28,683.97 255.58,681.78 259.87,679.10 264.17,676.28 268.46,681.71 272.42,678.82 276.80,696.19 281.18,734.18 285.39,773.62 289.77,780.49" fill="none" stroke="#F04E50" stroke-width="1.5" stroke-linejoin="round"/>
<polyline points="70.88,694.38 75.17,743.22 79.47,708.85 83.76,676.28 88.06,666.15 92.35,674.48 96.65,674.84 100.94,677.66 105.24,680.33 109.54,682.52 113.83,684.23 118.13,685.44 122.42,686.17 126.72,686.42 131.01,686.01 135.31,684.79 139.60,682.75 143.90,679.90 148.19,676.24 152.49,671.76 156.78,666.47 163.40,651.32 167.27,661.23 171.05,705.59 174.91,730.56 178.78,739.61 182.13,739.61 186.42,730.56 190.20,705.59 193.55,661.23 197.42,651.32 204.03,666.47 208.33,671.76 212.62,676.24 216.92,679.90 221.22,682.75 225.51,684.79 229.81,686.01 234.10,686.42 238.40,686.17 242.69,685.44 246.99,684.23 251.28,682.52 255.58,680.33 259.87,677.66 264.17,674.84 268.46,675.56 272.42,664.34 276.80,670.86 281.18,721.15 285.39,758.42 289.77,718.26" fill="none" stroke="#3A7DDE" stroke-width="1.5" stroke-linejoin="round"/>
<polyline points="70.88,694.38 75.17,743.22 79.47,708.85 83.76,674.11 88.06,667.60 92.35,677.37 96.65,677.01 100.94,679.83 105.24,682.50 109.54,684.69 113.83,686.40 118.13,687.61 122.42,688.34 126.72,688.59 131.01,688.18 135.31,686.96 139.60,684.92 143.90,682.07 148.19,678.41 152.49,673.93 156.78,668.64 163.40,652.40 167.27,661.88 171.05,705.59 174.91,730.56 178.78,739.61 182.13,739.61 186.42,730.56 190.20,705.59 193.55,661.88 197.42,652.40 204.03,668.64 208.33,673.93 212.62,678.41 216.92,682.07 221.22,684.92 225.51,686.96 229.81,688.18 234.10,688.59 238.40,688.34 242.69,687.61 246.99,686.40 251.28,684.69 255.58,682.50 259.87,679.83 264.17,677.01 268.46,677.01 272.42,665.43 276.80,671.22 281.18,721.15 285.39,758.42 289.77,718.26" fill="none" stroke="#48B06C" stroke-width="1.5" stroke-linejoin="round"/>
<polyline points="70.88,694.38 75.17,743.22 79.47,708.85 83.76,673.39 88.06,667.60 92.35,678.46 96.65,677.73 100.94,680.91 105.24,683.59 109.54,685.78 113.83,687.48 118.13,688.70 122.42,689.43 126.72,689.67 131.01,689.27 135.31,688.04 139.60,686.01 143.90,683.16 148.19,679.50 152.49,675.02 156.78,669.73 163.40,652.95 167.27,662.21 171.05,705.59 174.91,730.56 178.78,739.61 182.13,739.61 186.42,730.56 190.20,705.59 193.55,662.21 197.42,652.95 204.03,669.73 208.33,675.02 212.62,679.50 216.92,683.16 221.22,686.01 225.51,688.04 229.81,689.27 234.10,689.67 238.40,689.43 242.69,688.70 246.99,687.48 251.28,685.78 255.58,683.59 259.87,680.91 264.17,677.73 268.46,677.73 272.42,665.79 276.80,671.58 281.18,721.15 285.39,758.42 289.77,718.26" fill="none" stroke="#B77BE0" stroke-width="1.5" stroke-linejoin="round"/>
<polyline points="70.88,694.38 75.17,743.22 79.47,708.85 83.76,674.11 88.06,668.32 92.35,679.90 96.65,678.82 100.94,682.00 105.24,684.68 109.54,686.87 113.83,688.57 118.13,689.79 122.42,690.52 126.72,690.76 131.01,690.35 135.31,689.13 139.60,687.09 143.90,684.25 148.19,680.58 152.49,676.10 156.78,670.81 163.40,653.49 167.27,662.54 171.05,705.59 174.91,730.56 178.78,739.61 182.13,739.61 186.42,730.56 190.20,705.59 193.55,662.54 197.42,653.49 204.03,670.81 208.33,676.10 212.62,680.58 216.92,684.25 221.22,687.09 225.51,689.13 229.81,690.35 234.10,690.76 238.40,690.52 242.69,689.79 246.99,688.57 251.28,686.87 255.58,684.68 259.87,682.00 264.17,678.82 268.46,678.82 272.42,666.15 276.80,671.94 281.18,721.15 285.39,758.42 289.77,718.26" fill="none" stroke="#D4A021" stroke-width="1.5" stroke-linejoin="round"/>
<line x1="63.30" y1="612.90" x2="87.40" y2="612.90" stroke="#454545" stroke-width="1.8"/>
<text x="89.68" y="616.50" style="font-family:'Liberation Serif',serif;font-weight:bold;font-size:10.40px" textLength="90.82" lengthAdjust="spacingAndGlyphs">Overall warming 10</text>
<text x="180.30" y="614.68" style="font-family:'Liberation Serif',serif;font-weight:bold;font-size:10.50px">°</text>
<text x="183.58" y="616.50" style="font-family:'Liberation Sans',sans-serif;font-size:10.70px" stroke="#000" stroke-width="0.25">C</text>
<line x1="194.00" y1="612.90" x2="217.80" y2="612.90" stroke="#F04E50" stroke-width="1.8"/>
<text x="220.18" y="616.50" style="font-family:'Liberation Serif',serif;font-weight:bold;font-size:10.40px" textLength="90.62" lengthAdjust="spacingAndGlyphs">Overall warming 20</text>
<text x="310.60" y="614.68" style="font-family:'Liberation Serif',serif;font-weight:bold;font-size:10.50px">°</text>
<text x="313.88" y="616.50" style="font-family:'Liberation Sans',sans-serif;font-size:10.70px" stroke="#000" stroke-width="0.25">C</text>
<line x1="63.30" y1="625.60" x2="87.40" y2="625.60" stroke="#3A7DDE" stroke-width="1.8"/>
<text x="89.68" y="629.20" style="font-family:'Liberation Serif',serif;font-weight:bold;font-size:10.40px" textLength="90.82" lengthAdjust="spacingAndGlyphs">Overall warming 30</text>
<text x="180.30" y="627.38" style="font-family:'Liberation Serif',serif;font-weight:bold;font-size:10.50px">°</text>
<text x="183.58" y="629.20" style="font-family:'Liberation Sans',sans-serif;font-size:10.70px" stroke="#000" stroke-width="0.25">C</text>
<line x1="194.00" y1="625.60" x2="217.80" y2="625.60" stroke="#48B06C" stroke-width="1.8"/>
<text x="220.18" y="629.20" style="font-family:'Liberation Serif',serif;font-weight:bold;font-size:10.40px" textLength="90.62" lengthAdjust="spacingAndGlyphs">Overall warming 40</text>
<text x="310.60" y="627.38" style="font-family:'Liberation Serif',serif;font-weight:bold;font-size:10.50px">°</text>
<text x="313.88" y="629.20" style="font-family:'Liberation Sans',sans-serif;font-size:10.70px" stroke="#000" stroke-width="0.25">C</text>
<line x1="63.30" y1="638.70" x2="87.40" y2="638.70" stroke="#B77BE0" stroke-width="1.8"/>
<text x="89.68" y="642.30" style="font-family:'Liberation Serif',serif;font-weight:bold;font-size:10.40px" textLength="90.82" lengthAdjust="spacingAndGlyphs">Overall warming 50</text>
<text x="180.30" y="640.48" style="font-family:'Liberation Serif',serif;font-weight:bold;font-size:10.50px">°</text>
<text x="183.58" y="642.30" style="font-family:'Liberation Sans',sans-serif;font-size:10.70px" stroke="#000" stroke-width="0.25">C</text>
<line x1="194.00" y1="638.70" x2="217.80" y2="638.70" stroke="#D4A021" stroke-width="1.8"/>
<text x="220.18" y="642.30" style="font-family:'Liberation Serif',serif;font-weight:bold;font-size:10.40px" textLength="90.62" lengthAdjust="spacingAndGlyphs">Overall warming 60</text>
<text x="310.60" y="640.48" style="font-family:'Liberation Serif',serif;font-weight:bold;font-size:10.50px">°</text>
<text x="313.88" y="642.30" style="font-family:'Liberation Sans',sans-serif;font-size:10.70px" stroke="#000" stroke-width="0.25">C</text>
<text x="29.79" y="803.31" style="font-family:'Liberation Serif',serif;font-weight:bold;font-size:12.30px" textLength="15.38" lengthAdjust="spacingAndGlyphs">0.0</text>
<text x="29.96" y="767.13" style="font-family:'Liberation Serif',serif;font-weight:bold;font-size:12.30px" textLength="15.38" lengthAdjust="spacingAndGlyphs">0.1</text>
<text x="29.85" y="730.95" style="font-family:'Liberation Serif',serif;font-weight:bold;font-size:12.30px" textLength="15.38" lengthAdjust="spacingAndGlyphs">0.2</text>
<text x="29.75" y="694.76" style="font-family:'Liberation Serif',serif;font-weight:bold;font-size:12.30px" textLength="15.38" lengthAdjust="spacingAndGlyphs">0.3</text>
<text x="29.55" y="658.58" style="font-family:'Liberation Serif',serif;font-weight:bold;font-size:12.30px" textLength="15.38" lengthAdjust="spacingAndGlyphs">0.4</text>
<text x="29.78" y="622.40" style="font-family:'Liberation Serif',serif;font-weight:bold;font-size:12.30px" textLength="15.38" lengthAdjust="spacingAndGlyphs">0.5</text>
<text x="67.80" y="831.50" style="font-family:'Liberation Serif',serif;font-weight:bold;font-size:12.30px" textLength="6.15" lengthAdjust="spacingAndGlyphs">0</text>
<text x="104.59" y="831.50" style="font-family:'Liberation Serif',serif;font-weight:bold;font-size:12.30px" textLength="18.45" lengthAdjust="spacingAndGlyphs">500</text>
<text x="144.23" y="831.50" style="font-family:'Liberation Serif',serif;font-weight:bold;font-size:12.30px" textLength="24.60" lengthAdjust="spacingAndGlyphs">1000</text>
<text x="187.18" y="831.50" style="font-family:'Liberation Serif',serif;font-weight:bold;font-size:12.30px" textLength="24.60" lengthAdjust="spacingAndGlyphs">1500</text>
<text x="230.37" y="831.50" style="font-family:'Liberation Serif',serif;font-weight:bold;font-size:12.30px" textLength="24.60" lengthAdjust="spacingAndGlyphs">2000</text>
<text x="273.32" y="831.50" style="font-family:'Liberation Serif',serif;font-weight:bold;font-size:12.30px" textLength="24.60" lengthAdjust="spacingAndGlyphs">2500</text>
<text x="316.30" y="831.50" style="font-family:'Liberation Serif',serif;font-weight:bold;font-size:12.30px" textLength="24.60" lengthAdjust="spacingAndGlyphs">3000</text>
<text transform="translate(25.58,749.98) rotate(-90)" x="0" y="0" style="font-family:'Liberation Serif',serif;font-weight:bold;font-size:16.30px" textLength="72.52" lengthAdjust="spacingAndGlyphs">DAMAGT</text>
<text x="106.63" y="846.90" style="font-family:'Liberation Serif',serif;font-weight:bold;font-size:15.80px" textLength="161.44" lengthAdjust="spacingAndGlyphs">Horizontal position/mm</text>
<text x="156.59" y="879.20" style="font-family:'Liberation Serif',serif;font-size:17.50px" textLength="20.53" lengthAdjust="spacingAndGlyphs">(e)</text>
<text x="182.14" y="879.20" style="font-family:'Liberation Serif',serif;font-size:17.50px" textLength="22.11" lengthAdjust="spacingAndGlyphs">5-5</text>
<path d="M413.58,818.80V814.80 M456.95,818.80V814.80 M500.32,818.80V814.80 M543.69,818.80V814.80 M587.06,818.80V814.80 M630.43,818.80V814.80 M673.80,818.80V814.80 M435.27,818.80V816.40 M478.64,818.80V816.40 M522.01,818.80V816.40 M565.38,818.80V816.40 M608.75,818.80V816.40 M652.12,818.80V816.40 M391.90,799.59H395.90 M391.90,761.17H395.90 M391.90,722.75H395.90 M391.90,684.34H395.90 M391.90,645.92H395.90 M391.90,607.50H395.90 M391.90,818.80H394.30 M391.90,780.38H394.30 M391.90,741.96H394.30 M391.90,703.55H394.30 M391.90,665.13H394.30 M391.90,626.71H394.30" stroke="#4a4a4a" stroke-width="1.1" fill="none"/>
<rect x="391.90" y="607.50" width="281.90" height="211.30" fill="none" stroke="#4a4a4a" stroke-width="1.3"/>
<polyline points="413.58,792.29 417.92,778.46 422.26,722.75 422.26,787.30 422.26,732.36 430.93,794.40 435.27,799.59 500.32,798.25 503.97,799.59 506.65,796.33 514.81,748.69 518.28,744.65 522.27,747.73 526.34,747.73 530.51,744.65 533.89,748.69 542.04,796.33 545.43,799.59 613.08,799.59 616.64,794.40 622.45,759.83 626.27,751.57 630.08,771.16 634.94,790.56" fill="none" stroke="#454545" stroke-width="1.5" stroke-linejoin="round"/>
<polyline points="413.58,776.73 417.92,765.21 422.26,738.31 426.60,734.47 430.93,735.43 435.01,733.51 437.87,741.96 434.90,745.23 438.80,744.50 442.70,743.88 446.70,743.36 450.90,742.94 455.00,742.63 458.90,742.42 462.80,742.31 466.80,742.31 470.70,742.41 474.90,742.62 478.90,742.93 482.80,743.34 486.80,743.86 490.70,744.48 494.90,745.20 498.90,746.03 502.80,746.96 503.97,732.36 506.65,728.90 510.73,734.47 514.81,729.67 518.28,737.74 522.27,743.31 526.34,743.31 530.51,737.74 533.89,729.67 537.97,734.47 542.04,728.90 545.43,732.36 550.20,745.81 554.27,747.73 559.74,746.77 569.37,744.27 584.89,742.35 598.25,743.88 605.97,746.19 611.78,738.51 615.69,732.74 619.50,734.86 625.31,732.74 629.13,767.51 634.94,778.08" fill="none" stroke="#F04E50" stroke-width="1.5" stroke-linejoin="round"/>
<polyline points="413.58,754.07 417.92,762.33 422.26,738.31 426.60,726.60 430.06,720.83 432.23,720.83 436.14,725.06 439.61,741.96 438.80,747.26 442.70,745.53 446.70,744.06 450.90,742.87 455.00,741.94 458.90,741.28 462.80,740.89 466.80,740.77 470.70,740.92 474.90,741.33 478.90,742.02 482.80,742.97 486.80,744.19 490.70,745.68 494.90,747.44 498.90,749.47 502.80,751.76 503.97,732.36 506.65,722.75 510.73,718.91 514.81,729.67 518.28,737.74 522.27,743.31 526.34,743.31 530.51,737.74 533.89,729.67 537.97,718.91 542.04,722.75 544.21,723.14 545.50,706.50 549.50,682.73 549.50,675.05 553.40,671.44 553.40,663.75 557.60,667.26 557.60,659.57 561.70,664.74 561.70,657.05 565.60,663.96 565.60,656.27 569.60,663.21 569.60,655.52 573.50,663.21 573.50,655.52 577.40,663.21 577.40,655.52 581.40,663.21 581.40,655.52 585.30,663.21 585.30,655.52 589.30,663.21 589.30,655.52 593.20,663.21 593.20,655.52 597.20,663.21 597.20,655.52 601.10,665.33 601.10,657.65 605.00,668.24 605.00,660.56 609.00,679.41 609.00,671.72 613.20,704.18 613.20,696.50 613.69,703.55 616.64,723.14 619.50,723.14 625.31,736.59 630.08,761.17 634.94,766.94" fill="none" stroke="#3A7DDE" stroke-width="1.5" stroke-linejoin="round"/>
<polyline points="413.58,754.07 417.92,762.33 422.26,738.31 426.60,726.60 430.93,718.91 435.01,713.15 437.87,722.75 434.90,743.50 438.80,741.72 442.70,740.17 446.70,738.86 450.90,737.78 455.00,736.93 458.90,736.32 462.80,735.94 466.80,735.80 470.70,735.89 474.90,736.22 478.90,736.77 482.80,737.57 486.80,738.59 490.70,739.85 494.90,741.35 498.90,743.07 502.80,745.04 503.97,728.52 506.65,718.91 510.73,722.75 514.81,729.67 518.28,737.74 522.27,743.31 526.34,743.31 530.51,737.74 533.89,729.67 537.97,722.75 542.04,718.91 544.21,713.15 545.50,682.37 549.50,667.59 549.50,660.67 553.40,663.27 553.40,656.35 557.60,661.70 557.60,654.78 561.70,660.71 561.70,653.79 565.60,660.32 565.60,653.40 569.60,659.94 569.60,653.03 573.50,659.94 573.50,653.03 577.40,659.94 577.40,653.03 581.40,659.94 581.40,653.03 585.30,659.94 585.30,653.03 589.30,659.94 589.30,653.03 593.20,659.94 593.20,653.03 597.20,659.94 597.20,653.03 601.10,660.65 601.10,653.73 605.00,661.62 605.00,654.70 609.00,664.10 609.00,657.18 613.20,671.44 613.20,664.52 613.69,668.97 616.64,715.07 619.50,722.75 625.31,736.59 630.08,761.17 634.94,766.94" fill="none" stroke="#48B06C" stroke-width="1.5" stroke-linejoin="round"/>
<polyline points="413.58,754.07 417.92,762.33 422.26,738.31 426.60,726.60 430.93,718.91 435.01,711.23 437.87,718.91 434.90,738.12 438.80,736.53 442.70,735.16 446.70,734.02 450.90,733.10 455.00,732.42 458.90,731.95 462.80,731.72 466.80,731.70 470.70,731.92 474.90,732.36 478.90,733.03 482.80,733.92 486.80,735.04 490.70,736.38 494.90,737.95 498.90,739.75 502.80,741.77 503.97,726.60 506.65,716.99 510.73,724.68 514.81,729.67 518.28,737.74 522.27,743.31 526.34,743.31 530.51,737.74 533.89,729.67 537.97,724.68 542.04,716.99 544.21,711.23 545.50,680.84 549.50,665.28 549.50,659.13 553.40,661.03 553.40,654.88 557.60,659.67 557.60,653.53 561.70,658.82 561.70,652.68 565.60,658.51 565.60,652.37 569.60,658.21 569.60,652.07 573.50,658.21 573.50,652.07 577.40,658.21 577.40,652.07 581.40,658.21 581.40,652.07 585.30,658.21 585.30,652.07 589.30,658.21 589.30,652.07 593.20,658.21 593.20,652.07 597.20,658.21 597.20,652.07 601.10,658.92 601.10,652.77 605.00,659.89 605.00,653.74 609.00,662.22 609.00,656.07 613.20,669.18 613.20,663.04 613.69,667.05 616.64,715.07 619.50,722.75 625.31,736.59 630.08,761.17 634.94,766.94" fill="none" stroke="#B77BE0" stroke-width="1.5" stroke-linejoin="round"/>
<polyline points="413.58,754.07 417.92,762.33 422.26,738.31 426.60,726.98 430.93,719.30 434.90,656.10 434.90,794.21 434.90,722.75 438.80,730.63 438.80,650.91 438.80,796.33 438.80,730.63 442.70,733.51 442.70,647.65 442.70,797.67 442.70,733.51 446.70,732.36 446.70,648.03 446.70,798.44 446.70,732.36 450.90,730.63 450.90,648.61 450.90,798.82 450.90,730.63 455.00,729.48 455.00,649.18 455.00,798.82 455.00,729.48 458.90,728.90 458.90,650.14 458.90,798.82 458.90,728.90 462.80,728.90 462.80,650.53 462.80,798.82 462.80,728.90 466.80,728.90 466.80,650.34 466.80,798.82 466.80,728.90 470.70,729.29 470.70,649.95 470.70,798.82 470.70,729.29 474.90,730.05 474.90,649.57 474.90,798.82 474.90,730.05 478.90,731.40 478.90,648.99 478.90,798.63 478.90,731.40 482.80,733.13 482.80,648.80 482.80,798.44 482.80,733.13 486.80,734.28 486.80,648.22 486.80,798.05 486.80,734.28 490.70,735.82 490.70,648.61 490.70,797.29 490.70,735.82 494.90,736.97 494.90,649.18 494.90,795.75 494.90,736.97 498.90,737.55 498.90,653.03 498.90,793.83 498.90,737.55 502.80,738.12 502.80,790.75 502.80,658.40 506.65,714.69 510.73,731.01 514.81,729.67 518.28,737.74 522.27,743.31 526.34,743.31 530.51,737.74 533.89,729.67 537.97,731.01 542.04,714.69 545.50,658.40 545.50,790.56 545.50,658.40 549.50,660.90 549.50,793.83 549.50,653.22 553.40,657.25 553.40,796.71 553.40,649.57 557.60,656.29 557.60,798.05 557.60,648.61 561.70,656.68 561.70,798.63 561.70,648.99 565.60,657.25 565.60,798.82 565.60,649.57 569.60,658.02 569.60,798.82 569.60,650.34 573.50,658.21 573.50,798.82 573.50,650.53 577.40,658.60 577.40,798.82 577.40,650.91 581.40,658.60 581.40,798.82 581.40,650.91 585.30,658.21 585.30,798.82 585.30,650.53 589.30,658.02 589.30,798.82 589.30,650.34 593.20,657.25 593.20,798.63 593.20,649.57 597.20,656.68 597.20,798.44 597.20,648.99 601.10,656.29 601.10,797.67 601.10,648.61 605.00,655.71 605.00,796.13 605.00,648.03 609.00,658.98 609.00,793.83 609.00,651.30 613.20,664.17 613.20,790.95 613.20,656.48 616.64,717.18 625.31,738.51 630.08,766.36 634.94,765.40" fill="none" stroke="#D4A021" stroke-width="1.45" stroke-linejoin="round"/>
<line x1="408.30" y1="616.80" x2="429.60" y2="616.80" stroke="#454545" stroke-width="1.8"/>
<text x="432.33" y="620.10" style="font-family:'Liberation Serif',serif;font-weight:bold;font-size:9.50px" textLength="82.57" lengthAdjust="spacingAndGlyphs">Overall warming 10</text>
<text x="514.72" y="618.44" style="font-family:'Liberation Serif',serif;font-weight:bold;font-size:9.59px">°</text>
<text x="517.71" y="620.10" style="font-family:'Liberation Sans',sans-serif;font-size:9.78px" stroke="#000" stroke-width="0.25">C</text>
<line x1="528.20" y1="616.80" x2="549.20" y2="616.80" stroke="#F04E50" stroke-width="1.8"/>
<text x="551.73" y="620.10" style="font-family:'Liberation Serif',serif;font-weight:bold;font-size:9.50px" textLength="82.17" lengthAdjust="spacingAndGlyphs">Overall warming 20</text>
<text x="633.72" y="618.44" style="font-family:'Liberation Serif',serif;font-weight:bold;font-size:9.59px">°</text>
<text x="636.71" y="620.10" style="font-family:'Liberation Sans',sans-serif;font-size:9.78px" stroke="#000" stroke-width="0.25">C</text>
<line x1="408.30" y1="628.80" x2="429.60" y2="628.80" stroke="#3A7DDE" stroke-width="1.8"/>
<text x="432.33" y="632.10" style="font-family:'Liberation Serif',serif;font-weight:bold;font-size:9.50px" textLength="82.57" lengthAdjust="spacingAndGlyphs">Overall warming 30</text>
<text x="514.72" y="630.44" style="font-family:'Liberation Serif',serif;font-weight:bold;font-size:9.59px">°</text>
<text x="517.71" y="632.10" style="font-family:'Liberation Sans',sans-serif;font-size:9.78px" stroke="#000" stroke-width="0.25">C</text>
<line x1="528.20" y1="628.80" x2="549.20" y2="628.80" stroke="#48B06C" stroke-width="1.8"/>
<text x="551.73" y="632.10" style="font-family:'Liberation Serif',serif;font-weight:bold;font-size:9.50px" textLength="82.17" lengthAdjust="spacingAndGlyphs">Overall warming 40</text>
<text x="633.72" y="630.44" style="font-family:'Liberation Serif',serif;font-weight:bold;font-size:9.59px">°</text>
<text x="636.71" y="632.10" style="font-family:'Liberation Sans',sans-serif;font-size:9.78px" stroke="#000" stroke-width="0.25">C</text>
<line x1="408.30" y1="640.80" x2="429.60" y2="640.80" stroke="#B77BE0" stroke-width="1.8"/>
<text x="432.33" y="644.10" style="font-family:'Liberation Serif',serif;font-weight:bold;font-size:9.50px" textLength="82.57" lengthAdjust="spacingAndGlyphs">Overall warming 50</text>
<text x="514.72" y="642.44" style="font-family:'Liberation Serif',serif;font-weight:bold;font-size:9.59px">°</text>
<text x="517.71" y="644.10" style="font-family:'Liberation Sans',sans-serif;font-size:9.78px" stroke="#000" stroke-width="0.25">C</text>
<line x1="528.20" y1="640.80" x2="549.20" y2="640.80" stroke="#D4A021" stroke-width="1.8"/>
<text x="551.73" y="644.10" style="font-family:'Liberation Serif',serif;font-weight:bold;font-size:9.50px" textLength="82.17" lengthAdjust="spacingAndGlyphs">Overall warming 60</text>
<text x="633.72" y="642.44" style="font-family:'Liberation Serif',serif;font-weight:bold;font-size:9.59px">°</text>
<text x="636.71" y="644.10" style="font-family:'Liberation Sans',sans-serif;font-size:9.78px" stroke="#000" stroke-width="0.25">C</text>
<text x="374.17" y="803.17" style="font-family:'Liberation Serif',serif;font-weight:bold;font-size:11.00px" textLength="13.75" lengthAdjust="spacingAndGlyphs">0.0</text>
<text x="374.22" y="764.76" style="font-family:'Liberation Serif',serif;font-weight:bold;font-size:11.00px" textLength="13.75" lengthAdjust="spacingAndGlyphs">0.2</text>
<text x="373.95" y="726.34" style="font-family:'Liberation Serif',serif;font-weight:bold;font-size:11.00px" textLength="13.75" lengthAdjust="spacingAndGlyphs">0.4</text>
<text x="374.07" y="687.92" style="font-family:'Liberation Serif',serif;font-weight:bold;font-size:11.00px" textLength="13.75" lengthAdjust="spacingAndGlyphs">0.6</text>
<text x="374.12" y="649.50" style="font-family:'Liberation Serif',serif;font-weight:bold;font-size:11.00px" textLength="13.75" lengthAdjust="spacingAndGlyphs">0.8</text>
<text x="374.17" y="611.08" style="font-family:'Liberation Serif',serif;font-weight:bold;font-size:11.00px" textLength="13.75" lengthAdjust="spacingAndGlyphs">1.0</text>
<text x="410.58" y="831.50" style="font-family:'Liberation Serif',serif;font-weight:bold;font-size:12.00px" textLength="6.00" lengthAdjust="spacingAndGlyphs">0</text>
<text x="447.94" y="831.50" style="font-family:'Liberation Serif',serif;font-weight:bold;font-size:12.00px" textLength="18.00" lengthAdjust="spacingAndGlyphs">500</text>
<text x="488.07" y="831.50" style="font-family:'Liberation Serif',serif;font-weight:bold;font-size:12.00px" textLength="24.00" lengthAdjust="spacingAndGlyphs">1000</text>
<text x="531.44" y="831.50" style="font-family:'Liberation Serif',serif;font-weight:bold;font-size:12.00px" textLength="24.00" lengthAdjust="spacingAndGlyphs">1500</text>
<text x="575.04" y="831.50" style="font-family:'Liberation Serif',serif;font-weight:bold;font-size:12.00px" textLength="24.00" lengthAdjust="spacingAndGlyphs">2000</text>
<text x="618.41" y="831.50" style="font-family:'Liberation Serif',serif;font-weight:bold;font-size:12.00px" textLength="24.00" lengthAdjust="spacingAndGlyphs">2500</text>
<text x="661.80" y="831.50" style="font-family:'Liberation Serif',serif;font-weight:bold;font-size:12.00px" textLength="24.00" lengthAdjust="spacingAndGlyphs">3000</text>
<text transform="translate(370.62,744.45) rotate(-90)" x="0" y="0" style="font-family:'Liberation Serif',serif;font-weight:bold;font-size:15.00px" textLength="64.26" lengthAdjust="spacingAndGlyphs">DAMAGT</text>
<text x="456.95" y="846.30" style="font-family:'Liberation Serif',serif;font-weight:bold;font-size:14.80px" textLength="146.39" lengthAdjust="spacingAndGlyphs">Horizontal position/mm</text>
<text x="506.20" y="879.20" style="font-family:'Liberation Serif',serif;font-size:17.50px" textLength="18.20" lengthAdjust="spacingAndGlyphs">(f)</text>
<text x="529.44" y="879.20" style="font-family:'Liberation Serif',serif;font-size:17.50px" textLength="23.48" lengthAdjust="spacingAndGlyphs">6-6</text>
</svg>
</body></html>
